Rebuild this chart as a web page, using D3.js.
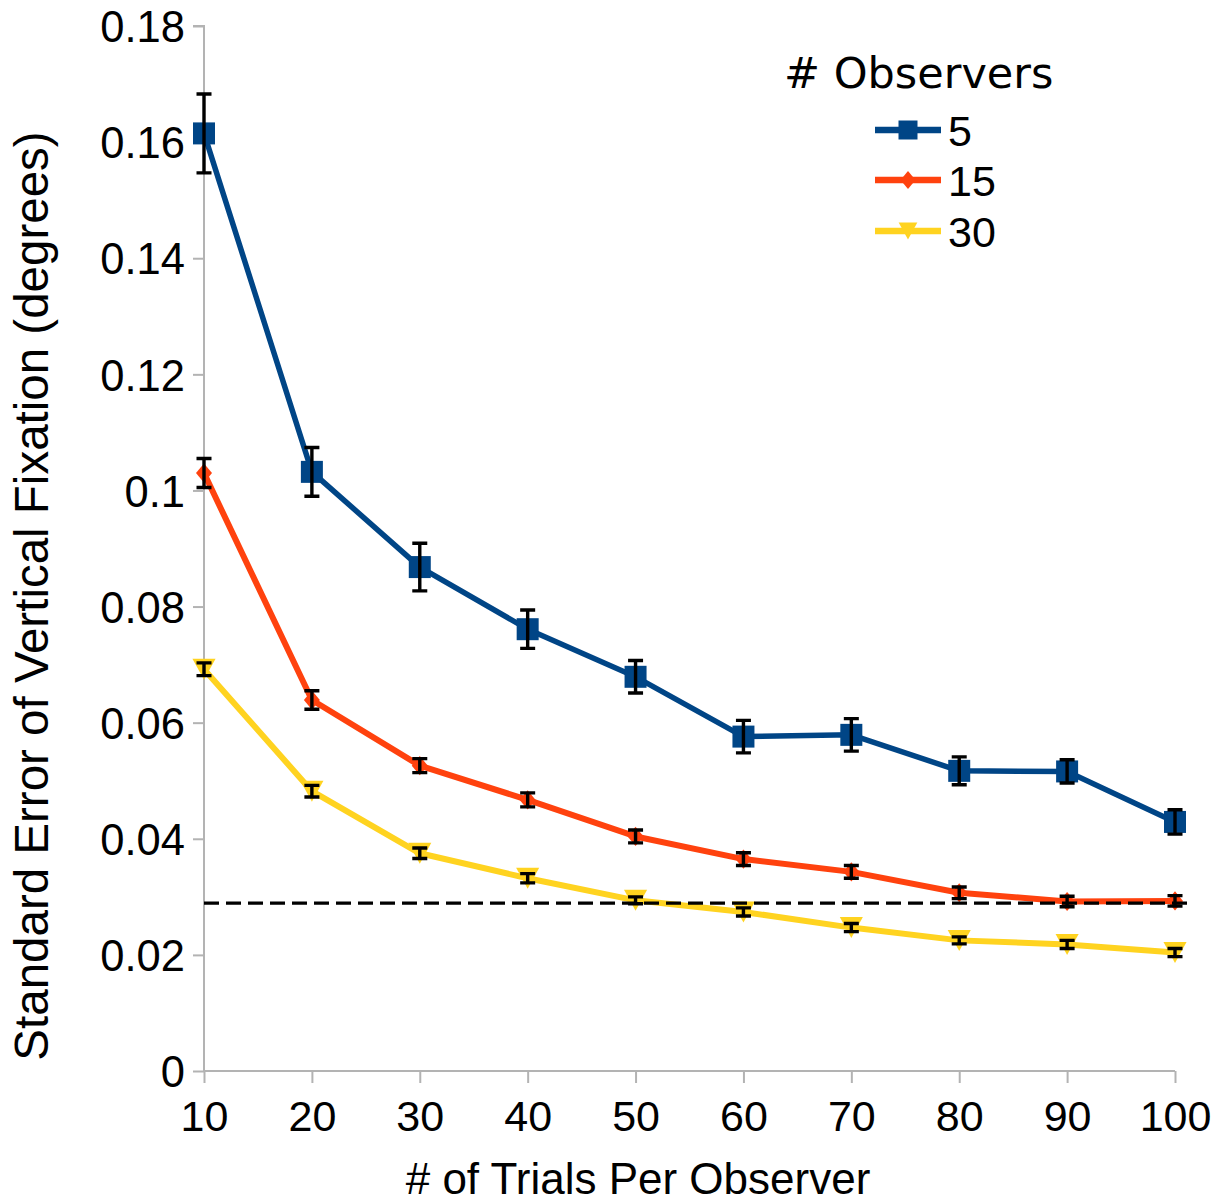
<!DOCTYPE html>
<html>
<head>
<meta charset="utf-8">
<script src="https://cdn.jsdelivr.net/npm/d3@7"></script>
<style>
  html, body { margin: 0; padding: 0; background: #ffffff; }
  svg { display: block; }
  text { fill: #000; }
</style>
</head>
<body>
<svg id="chart" width="1223" height="1202"></svg>
<script>
// Trials per observer (x) and standard error per observer-group
const trials = [10, 20, 30, 40, 50, 60, 70, 80, 90, 100];

const se5  = [0.1615, 0.1032, 0.0868, 0.0761, 0.0679, 0.0576, 0.0579, 0.0517, 0.0516, 0.0429];
const err5 = [0.0068, 0.0042, 0.0041, 0.0033, 0.0028, 0.0028, 0.0028, 0.0024, 0.0020, 0.0021];

const se15  = [0.1030, 0.0639, 0.0526, 0.0467, 0.0404, 0.0365, 0.0343, 0.0307, 0.0292, 0.0293];
const err15 = [0.0025, 0.0016, 0.0012, 0.0012, 0.0011, 0.0011, 0.0011, 0.0010, 0.0009, 0.0009];

const se30  = [0.0692, 0.0482, 0.0375, 0.0332, 0.0294, 0.0274, 0.0247, 0.0225, 0.0218, 0.0204];
const err30 = [0.0011, 0.0010, 0.0009, 0.0008, 0.0006, 0.0007, 0.0007, 0.0006, 0.0007, 0.0007];

const referenceLevel = 0.0289;

const seriesNames = ["5", "15", "30"];
const yTicks = [0, 0.02, 0.04, 0.06, 0.08, 0.1, 0.12, 0.14, 0.16, 0.18];
const yTickLabels = ["0", "0.02", "0.04", "0.06", "0.08", "0.1", "0.12", "0.14", "0.16", "0.18"];

const series = [
  { name: seriesNames[0], values: se5,  errors: err5,  color: "#004586", marker: "square",   width: 5.5 },
  { name: seriesNames[1], values: se15, errors: err15, color: "#ff420e", marker: "diamond",  width: 6 },
  { name: seriesNames[2], values: se30, errors: err30, color: "#ffd320", marker: "triangle", width: 6 }
];

const sans = "'Liberation Sans', Arial, sans-serif";
const svg = d3.select("#chart").style("font-family", sans);
const axisColor = "#b3b3b3";

const x = d3.scaleLinear().domain([10, 100]).range([204, 1175]);
const y = d3.scaleLinear().domain([0, 0.18]).range([1071, 26]);

// Axes
const yAxis = d3.axisLeft(y).tickValues(yTicks)
  .tickFormat((d, i) => yTickLabels[i]).tickSize(11).tickPadding(8);
const gy = svg.append("g").attr("transform", `translate(${x(10)},0)`).call(yAxis);
gy.attr("font-family", null).attr("font-size", null);
gy.select(".domain").attr("stroke", axisColor).attr("stroke-width", 2)
  .attr("d", `M-11,${y(0.18)}H0V${y(0)}`);
gy.selectAll(".tick line").attr("stroke", axisColor).attr("stroke-width", 2);
gy.selectAll(".tick text").style("font-size", "43.5px").style("font-family", sans)
  .attr("dy", "0.36em").attr("x", -19);

const xAxis = d3.axisBottom(x).tickValues(trials).tickFormat(d3.format("d")).tickSize(12).tickPadding(10);
const gx = svg.append("g").attr("transform", `translate(0,${y(0)})`).call(xAxis);
gx.attr("font-family", null).attr("font-size", null);
gx.select(".domain").attr("stroke", axisColor).attr("stroke-width", 2)
  .attr("d", `M${x(10)},0H${x(100)}`);
gx.selectAll(".tick line").attr("stroke", axisColor).attr("stroke-width", 2);
gx.selectAll(".tick text").style("font-size", "43px").style("font-family", sans)
  .attr("dy", null).attr("y", 60);

// Axis titles
svg.append("text")
  .attr("x", 638).attr("y", 1194)
  .attr("text-anchor", "middle").style("font-size", "44px")
  .text("# of Trials Per Observer");

svg.append("text")
  .attr("transform", `translate(48,596) rotate(-90)`)
  .attr("text-anchor", "middle").style("font-size", "47.5px")
  .text("Standard Error of Vertical Fixation (degrees)");

// Marker shapes
function markerPath(type, s) {
  if (type === "square") return `M${-s},${-s}H${s}V${s}H${-s}Z`;
  if (type === "diamond") return `M0,${-s * 1.2}L${s},0L0,${s * 1.2}L${-s},0Z`;
  return `M${-s * 1.1},${-s}H${s * 1.1}L0,${s}Z`;
}
const markerSize = { square: 11, diamond: 8, triangle: 10.5 };

const line = d3.line().x((d, i) => x(trials[i])).y(d => y(d));

const plot = svg.append("g");
series.forEach(s => {
  const g = plot.append("g");
  g.append("path")
    .attr("d", line(s.values))
    .attr("fill", "none").attr("stroke", s.color)
    .attr("stroke-width", s.width).attr("stroke-linejoin", "round");
  g.selectAll("path.marker").data(s.values).join("path")
    .attr("class", "marker")
    .attr("transform", (d, i) => `translate(${x(trials[i])},${y(d)})`)
    .attr("d", markerPath(s.marker, markerSize[s.marker]))
    .attr("fill", s.color);
});

// Reference threshold (dashed)
svg.append("line")
  .attr("x1", x(10)).attr("x2", 1190)
  .attr("y1", y(referenceLevel)).attr("y2", y(referenceLevel))
  .attr("stroke", "#000").attr("stroke-width", 3.2)
  .attr("stroke-dasharray", "15,7");

// Error bars
const bars = svg.append("g");
series.forEach(s => {
  s.values.forEach((v, i) => {
    const cx = x(trials[i]);
    const top = y(v + s.errors[i]);
    const bot = y(v - s.errors[i]);
    const cap = 7.5;
    bars.append("path")
      .attr("d", `M${cx},${top}V${bot}M${cx - cap},${top}H${cx + cap}M${cx - cap},${bot}H${cx + cap}`)
      .attr("fill", "none").attr("stroke", "#000").attr("stroke-width", 3.4);
  });
});

// Legend
const legend = svg.append("g");
legend.append("text")
  .attr("x", 784).attr("y", 88)
  .style("font-family", "'DejaVu Sans', sans-serif").style("font-size", "43px")
  .text("# Observers");
const rowY = [130, 180, 231];
const legendMarker = { square: 9.5, diamond: 7.5, triangle: 8.5 };
series.forEach((s, i) => {
  const row = legend.append("g").attr("transform", `translate(0,${rowY[i]})`);
  row.append("line").attr("x1", 875).attr("x2", 941).attr("y1", 0).attr("y2", 0)
    .attr("stroke", s.color).attr("stroke-width", 6.5);
  row.append("path").attr("transform", "translate(908,0)")
    .attr("d", markerPath(s.marker, legendMarker[s.marker]))
    .attr("fill", s.color);
  row.append("text").attr("x", 948).attr("y", 16)
    .style("font-size", "43px").text(s.name);
});
</script>
</body>
</html>
